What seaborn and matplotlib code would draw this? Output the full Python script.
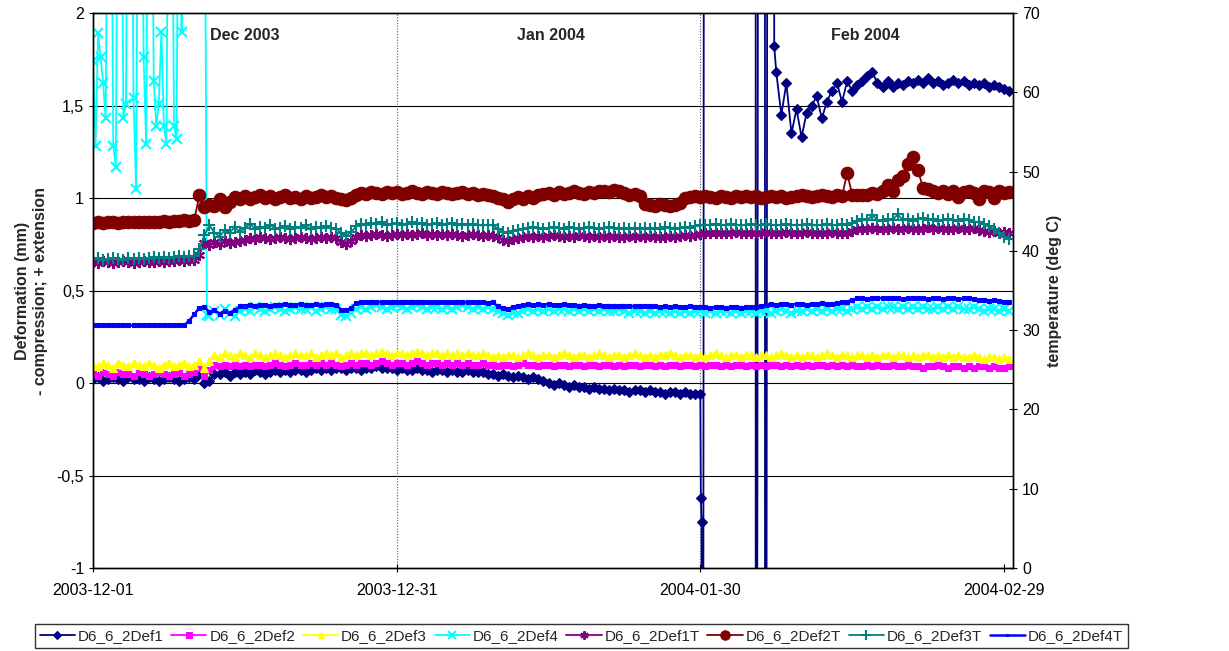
import numpy as np
import pandas as pd
import matplotlib
matplotlib.use("Agg")
import matplotlib.pyplot as plt
from matplotlib.ticker import FuncFormatter, FixedLocator
import seaborn as sns

nan = np.nan

# 12-hourly readings, 2003-12-01 00:00 onwards (182 samples)
times = pd.date_range("2003-12-01", periods=182, freq="12h")

# ---- deformation (mm), left axis ----
def1 = [0.02, 0.03, 0.01, 0.02, 0.03, 0.02, 0.01, 0.03, 0.02, 0.02,
        0.01, 0.03, 0.02, 0.01, 0.02, 0.03, 0.02, 0.01, 0.02, 0.03,
        0.02, 0.05, 0.00, 0.01, 0.05, 0.05, 0.06, 0.04, 0.06, 0.05,
        0.06, 0.05, 0.07, 0.06, 0.05, 0.06, 0.07, 0.06, 0.07, 0.06,
        0.07, 0.07, 0.06, 0.07, 0.08, 0.07, 0.08, 0.07, 0.08, 0.08,
        0.07, 0.08, 0.08, 0.07, 0.08, 0.08, 0.09, 0.08, 0.08, 0.08,
        0.07, 0.08, 0.07, 0.07, 0.08, 0.07, 0.07, 0.06, 0.07, 0.07,
        0.06, 0.07, 0.06, 0.06, 0.07, 0.06, 0.06, 0.06, 0.05, 0.05,
        0.04, 0.05, 0.04, 0.03, 0.04, 0.03, 0.02, 0.03, 0.02, 0.01,
        0.00, -0.01, 0.00, -0.01, -0.02, -0.01, -0.02, -0.02, -0.03, -0.02,
        -0.03, -0.03, -0.04, -0.03, -0.04, -0.04, -0.05, -0.04, -0.04, -0.05,
        -0.04, -0.05, -0.05, -0.06, -0.05, -0.05, -0.06, -0.05, -0.06, -0.06,
        -0.06, nan, nan, nan, nan, nan, nan, nan, nan, nan,
        nan, nan, nan, nan, nan, 1.68, 1.45, 1.62, 1.35, 1.48,
        1.33, 1.46, 1.50, 1.55, 1.43, 1.52, 1.58, 1.62, 1.52, 1.63,
        1.58, 1.61, 1.63, 1.66, 1.68, 1.62, 1.60, 1.63, 1.60, 1.62,
        1.61, 1.63, 1.62, 1.64, 1.62, 1.65, 1.62, 1.63, 1.61, 1.62,
        1.64, 1.62, 1.63, 1.61, 1.62, 1.61, 1.62, 1.60, 1.61, 1.60,
        1.59, 1.58]

# sensor failure around end of January (values far off scale)
def1_glitch_times = ["2004-01-30 01:12", "2004-01-30 02:53", "2004-01-30 05:00",
                     "2004-01-30 10:00", "2004-02-04 11:00", "2004-02-04 11:30",
                     "2004-02-04 19:30", "2004-02-05 09:00", "2004-02-05 09:30",
                     "2004-02-05 17:30", "2004-02-06 04:48", "2004-02-06 07:12"]
def1_glitch = [-0.62, -0.75, -9.0, 9.0, 9.0, -9.0, 9.0, 9.0, -9.0, 9.0, 9.0, 1.82]

def2 = [0.05, 0.04, 0.06, 0.05, 0.04, 0.06, 0.05, 0.05, 0.04, 0.06,
        0.05, 0.04, 0.05, 0.06, 0.05, 0.04, 0.05, 0.06, 0.04, 0.05,
        0.06, 0.08, 0.04, 0.07, 0.10, 0.09, 0.10, 0.09, 0.10, 0.09,
        0.10, 0.09, 0.10, 0.10, 0.09, 0.10, 0.11, 0.10, 0.09, 0.10,
        0.11, 0.10, 0.10, 0.11, 0.10, 0.11, 0.10, 0.11, 0.10, 0.09,
        0.10, 0.11, 0.10, 0.11, 0.11, 0.10, 0.11, 0.12, 0.11, 0.10,
        0.11, 0.11, 0.10, 0.11, 0.12, 0.11, 0.10, 0.11, 0.11, 0.10,
        0.11, 0.10, 0.11, 0.10, 0.11, 0.10, 0.10, 0.11, 0.10, 0.10,
        0.09, 0.10, 0.10, 0.09, 0.10, 0.11, 0.10, 0.10, 0.09, 0.10,
        0.10, 0.09, 0.10, 0.10, 0.09, 0.10, 0.10, 0.09, 0.10, 0.10,
        0.09, 0.10, 0.10, 0.09, 0.10, 0.09, 0.10, 0.10, 0.09, 0.10,
        0.10, 0.09, 0.10, 0.09, 0.10, 0.10, 0.09, 0.10, 0.10, 0.09,
        0.10, 0.09, 0.10, 0.10, 0.09, 0.10, 0.09, 0.10, 0.10, 0.09,
        0.10, 0.09, 0.10, 0.09, 0.10, 0.10, 0.09, 0.10, 0.09, 0.10,
        0.09, 0.10, 0.09, 0.10, 0.10, 0.09, 0.10, 0.09, 0.10, 0.09,
        0.10, 0.09, 0.09, 0.10, 0.09, 0.10, 0.09, 0.09, 0.10, 0.09,
        0.09, 0.10, 0.09, 0.09, 0.08, 0.09, 0.09, 0.10, 0.09, 0.08,
        0.09, 0.09, 0.08, 0.09, 0.08, 0.09, 0.09, 0.08, 0.09, 0.08,
        0.08, 0.09]

def3 = [0.10, 0.09, 0.11, 0.10, 0.08, 0.11, 0.10, 0.09, 0.11, 0.10,
        0.09, 0.11, 0.10, 0.08, 0.10, 0.11, 0.09, 0.10, 0.11, 0.09,
        0.10, 0.12, 0.08, 0.12, 0.15, 0.14, 0.16, 0.15, 0.14, 0.16,
        0.15, 0.14, 0.16, 0.15, 0.14, 0.15, 0.16, 0.15, 0.14, 0.15,
        0.16, 0.15, 0.15, 0.16, 0.14, 0.15, 0.16, 0.15, 0.16, 0.14,
        0.15, 0.16, 0.15, 0.16, 0.16, 0.15, 0.16, 0.17, 0.16, 0.15,
        0.16, 0.16, 0.15, 0.16, 0.17, 0.16, 0.15, 0.16, 0.16, 0.15,
        0.16, 0.15, 0.16, 0.15, 0.16, 0.15, 0.15, 0.16, 0.15, 0.14,
        0.15, 0.14, 0.15, 0.15, 0.14, 0.15, 0.16, 0.15, 0.14, 0.15,
        0.15, 0.14, 0.15, 0.16, 0.15, 0.14, 0.15, 0.15, 0.14, 0.15,
        0.16, 0.15, 0.14, 0.15, 0.15, 0.14, 0.15, 0.16, 0.15, 0.14,
        0.15, 0.14, 0.15, 0.15, 0.16, 0.15, 0.14, 0.15, 0.15, 0.14,
        0.15, 0.14, 0.15, 0.16, 0.15, 0.14, 0.15, 0.15, 0.14, 0.15,
        0.15, 0.14, 0.15, 0.15, 0.14, 0.15, 0.16, 0.15, 0.14, 0.15,
        0.14, 0.15, 0.15, 0.14, 0.15, 0.16, 0.15, 0.14, 0.15, 0.15,
        0.14, 0.15, 0.15, 0.14, 0.15, 0.14, 0.15, 0.15, 0.14, 0.15,
        0.15, 0.14, 0.15, 0.14, 0.15, 0.15, 0.14, 0.15, 0.14, 0.15,
        0.14, 0.15, 0.14, 0.14, 0.15, 0.14, 0.13, 0.14, 0.14, 0.13,
        0.14, 0.13]

# Def4 spiky start logged every 6 h (3.5 = off scale)
def4_early_times = pd.date_range("2003-12-01", periods=46, freq="6h")
def4_early = [1.74, 1.28, 1.89, 1.76, 1.62, 1.43, 3.5, 3.5, 1.28, 1.17,
              3.5, 3.5, 1.43, 1.51, 3.5, 3.5, 1.54, 1.05, 3.5, 3.5,
              1.76, 1.29, 3.5, 3.5, 1.63, 1.39, 1.51, 1.90, 1.39, 1.29,
              3.5, 3.5, 1.39, 1.32, 3.5, 1.90, 3.5, 3.5, 3.5, 3.5,
              3.5, 3.5, 3.5, 3.5, 3.5, 0.37]

def4 = [nan] * 23 + [
        0.36, 0.39, 0.37, 0.40, 0.38, 0.36, 0.39,
        0.40, 0.39, 0.41, 0.40, 0.39, 0.40, 0.41, 0.40, 0.39, 0.40,
        0.41, 0.40, 0.40, 0.41, 0.39, 0.40, 0.41, 0.40, 0.40, 0.37,
        0.36, 0.38, 0.40, 0.41, 0.40, 0.41, 0.42, 0.41, 0.40, 0.41,
        0.42, 0.41, 0.40, 0.41, 0.42, 0.41, 0.40, 0.41, 0.41, 0.40,
        0.41, 0.40, 0.41, 0.42, 0.41, 0.40, 0.41, 0.40, 0.41, 0.40,
        0.39, 0.38, 0.37, 0.38, 0.38, 0.39, 0.40, 0.39, 0.40, 0.39,
        0.40, 0.39, 0.40, 0.40, 0.39, 0.40, 0.39, 0.40, 0.39, 0.40,
        0.39, 0.40, 0.39, 0.39, 0.40, 0.39, 0.38, 0.39, 0.39, 0.38,
        0.39, 0.38, 0.39, 0.39, 0.38, 0.39, 0.38, 0.39, 0.38, 0.39,
        0.39, 0.38, 0.39, 0.38, 0.39, 0.39, 0.38, 0.39, 0.38, 0.39,
        0.39, 0.38, 0.39, 0.39, 0.38, 0.39, 0.40, 0.39, 0.38, 0.39,
        0.39, 0.40, 0.39, 0.40, 0.39, 0.40, 0.39, 0.40, 0.40, 0.39,
        0.40, 0.41, 0.40, 0.41, 0.40, 0.41, 0.40, 0.41, 0.41, 0.40,
        0.41, 0.40, 0.41, 0.40, 0.41, 0.40, 0.40, 0.41, 0.40, 0.41,
        0.40, 0.41, 0.40, 0.40, 0.41, 0.40, 0.39, 0.40, 0.40, 0.39,
        0.40, 0.39]

# ---- temperatures (deg C), right axis ----
def1t = [38.6, 38.5, 38.7, 38.6, 38.5, 38.6, 38.7, 38.6, 38.5, 38.6,
         38.7, 38.6, 38.6, 38.7, 38.6, 38.7, 38.7, 38.8, 38.7, 38.8,
         38.8, 39.5, 41.0, 40.8, 41.1, 40.9, 41.2, 41.0, 41.1, 41.2,
         41.4, 41.6, 41.5, 41.7, 41.6, 41.5, 41.6, 41.7, 41.6, 41.5,
         41.6, 41.7, 41.6, 41.5, 41.6, 41.7, 41.6, 41.7, 41.6, 41.1,
         40.9, 41.3, 41.8, 42.0, 41.9, 42.0, 42.1, 42.0, 41.9, 42.0,
         42.1, 42.0, 42.1, 42.0, 42.1, 42.2, 42.0, 42.1, 42.0, 42.1,
         42.0, 42.1, 42.0, 41.9, 42.0, 42.1, 42.0, 41.9, 42.0, 41.9,
         41.7, 41.4, 41.3, 41.5, 41.6, 41.8, 41.9, 41.8, 41.9, 41.8,
         41.9, 42.0, 41.9, 41.8, 41.9, 41.8, 42.0, 41.9, 41.8, 41.9,
         41.8, 41.9, 41.8, 41.9, 41.7, 41.8, 41.9, 41.8, 41.9, 41.8,
         41.9, 41.8, 41.7, 41.8, 41.9, 41.8, 41.9, 42.0, 41.9, 42.0,
         42.1, 42.2, 42.3, 42.2, 42.3, 42.2, 42.3, 42.4, 42.3, 42.2,
         42.3, 42.2, 42.3, 42.4, 42.3, 42.2, 42.3, 42.4, 42.3, 42.2,
         42.3, 42.4, 42.3, 42.2, 42.3, 42.2, 42.4, 42.3, 42.2, 42.3,
         42.5, 42.7, 42.8, 42.7, 42.9, 42.8, 42.7, 42.8, 42.9, 42.7,
         42.8, 42.9, 42.8, 42.7, 42.8, 43.0, 42.8, 42.9, 42.8, 42.7,
         42.8, 42.9, 42.7, 42.8, 42.9, 42.6, 42.5, 42.4, 42.5, 42.3,
         42.4, 42.3]

def2t = [43.5, 43.6, 43.5, 43.6, 43.6, 43.5, 43.6, 43.7, 43.6, 43.6,
         43.7, 43.6, 43.7, 43.7, 43.8, 43.7, 43.8, 43.8, 43.9, 43.8,
         43.9, 47.0, 45.5, 45.8, 45.6, 46.6, 45.5, 46.2, 46.8, 46.5,
         46.9, 46.6, 46.8, 47.0, 46.7, 46.9, 46.6, 46.8, 47.0, 46.7,
         46.8, 46.5, 46.9, 46.7, 46.8, 47.0, 46.8, 46.9, 46.7, 46.5,
         46.4, 46.7, 47.1, 47.3, 47.2, 47.4, 47.3, 47.2, 47.4, 47.3,
         47.4, 47.2, 47.3, 47.5, 47.3, 47.2, 47.4, 47.3, 47.2, 47.4,
         47.3, 47.2, 47.3, 47.4, 47.2, 47.3, 47.1, 47.2, 47.0, 46.9,
         46.7, 46.5, 46.2, 46.6, 46.8, 46.6, 46.9, 46.7, 47.0, 47.2,
         47.3, 47.1, 47.4, 47.2, 47.3, 47.5, 47.3, 47.2, 47.4, 47.3,
         47.5, 47.6, 47.4, 47.7, 47.5, 47.3, 47.1, 47.2, 46.9, 45.9,
         45.8, 45.7, 45.9, 45.8, 45.7, 45.8, 46.0, 46.7, 46.8, 46.9,
         46.8, 46.9, 46.8, 46.7, 46.9, 46.8, 46.7, 46.9, 46.8, 46.9,
         46.8, 46.9, 46.7, 46.8, 46.9, 46.8, 46.9, 46.7, 46.8, 46.9,
         47.0, 46.9, 46.8, 46.9, 47.0, 46.9, 46.8, 47.0, 46.9, 49.8,
         47.1, 47.0, 47.1, 47.0, 47.3, 47.2, 47.6, 48.3, 47.5, 48.9,
         49.5, 51.0, 51.8, 50.2, 47.9, 47.8, 47.5, 47.3, 47.6, 47.2,
         47.5, 46.8, 47.4, 47.6, 47.3, 46.6, 47.5, 47.4, 46.7, 47.5,
         47.3, 47.4]

def3t = [39.0, 39.1, 38.9, 39.0, 39.1, 39.0, 38.9, 39.1, 39.0, 39.1,
         39.0, 39.1, 39.2, 39.1, 39.2, 39.1, 39.2, 39.3, 39.2, 39.3,
         39.3, 40.2, 42.0, 43.2, 42.3, 41.8, 42.6, 42.3, 43.0, 42.4,
         42.9, 43.4, 42.8, 43.0, 42.9, 43.3, 42.8, 42.9, 43.1, 42.8,
         43.0, 42.9, 43.2, 42.8, 43.0, 42.9, 43.1, 42.9, 42.8, 42.2,
         41.9, 42.4, 43.1, 43.4, 43.3, 43.5, 43.4, 43.6, 43.3, 43.4,
         43.5, 43.3, 43.4, 43.6, 43.4, 43.5, 43.3, 43.4, 43.5, 43.3,
         43.4, 43.5, 43.3, 43.4, 43.2, 43.4, 43.3, 43.2, 43.3, 43.2,
         42.8, 42.4, 42.2, 42.5, 42.6, 42.8, 42.9, 43.0, 42.9, 42.8,
         42.9, 43.0, 42.9, 42.8, 43.0, 42.9, 42.8, 42.9, 43.0, 42.9,
         42.8, 42.9, 43.0, 42.9, 42.8, 42.9, 42.8, 42.9, 42.8, 42.9,
         42.8, 42.9, 42.8, 43.0, 42.9, 42.8, 42.9, 43.0, 42.9, 43.1,
         43.2, 43.3, 43.2, 43.4, 43.3, 43.2, 43.4, 43.3, 43.2, 43.3,
         43.4, 43.3, 43.2, 43.4, 43.3, 43.2, 43.3, 43.4, 43.3, 43.2,
         43.3, 43.4, 43.3, 43.2, 43.3, 43.4, 43.3, 43.2, 43.4, 43.3,
         43.5, 43.8, 44.0, 43.9, 44.5, 43.9, 43.8, 44.0, 43.9, 44.6,
         43.9, 44.0, 43.8, 44.0, 44.1, 43.9, 44.0, 43.8, 43.9, 44.0,
         43.9, 43.8, 44.0, 43.9, 43.7, 43.6, 43.4, 43.1, 42.7, 42.2,
         41.8, 41.5]

def4t = [30.6, 30.6, 30.6, 30.6, 30.6, 30.6, 30.6, 30.6, 30.6, 30.6,
         30.6, 30.6, 30.6, 30.6, 30.6, 30.6, 30.6, 30.6, 30.6, 31.2,
         32.0, 32.8, 32.9, 32.3, 32.5, 32.1, 32.4, 32.2, 32.5, 33.0,
         33.1, 33.2, 33.1, 33.2, 33.2, 33.1, 33.2, 33.2, 33.3, 33.2,
         33.2, 33.3, 33.2, 33.2, 33.3, 33.2, 33.3, 33.3, 33.2, 32.6,
         32.5, 32.8, 33.4, 33.5, 33.5, 33.6, 33.5, 33.6, 33.5, 33.6,
         33.6, 33.5, 33.6, 33.6, 33.5, 33.6, 33.6, 33.5, 33.6, 33.5,
         33.6, 33.5, 33.6, 33.5, 33.5, 33.6, 33.5, 33.5, 33.4, 33.5,
         33.0, 32.8, 32.7, 32.9, 33.1, 33.2, 33.3, 33.2, 33.3, 33.2,
         33.3, 33.2, 33.2, 33.3, 33.2, 33.2, 33.1, 33.2, 33.1, 33.1,
         33.2, 33.1, 33.1, 33.0, 33.1, 33.0, 33.1, 33.0, 33.0, 33.1,
         33.0, 33.0, 32.9, 33.0, 32.9, 33.0, 32.9, 32.9, 33.0, 32.9,
         32.9, 32.9, 32.8, 32.9, 32.9, 32.8, 32.9, 32.9, 32.8, 32.9,
         32.9, 32.9, 33.0, 33.2, 33.3, 33.2, 33.3, 33.3, 33.2, 33.3,
         33.3, 33.2, 33.3, 33.3, 33.4, 33.3, 33.3, 33.4, 33.5, 33.6,
         33.8, 34.0, 34.0, 33.9, 34.0, 34.1, 34.0, 34.0, 34.1, 34.0,
         33.9, 34.0, 34.0, 34.1, 34.0, 33.9, 34.0, 34.0, 33.9, 34.0,
         34.0, 33.9, 34.0, 34.0, 33.9, 33.8, 33.8, 33.7, 33.8, 33.7,
         33.6, 33.6]

month_labels = ["Dec 2003", "Jan 2004", "Feb 2004"]
month_label_pos = ["2003-12-16", "2004-01-15 06:00", "2004-02-15 06:00"]
date_ticks = ["2003-12-01", "2003-12-31", "2004-01-30", "2004-02-29"]


def series(t, v):
    s = pd.Series(v, index=pd.DatetimeIndex(t), dtype=float).dropna()
    return s.sort_index()


def draw(ax, s, label, color, marker, ms, mew=0.8, lw=1.3):
    sns.lineplot(x=s.index, y=s.values, ax=ax, color=color, marker=marker,
                 markersize=ms, markeredgecolor=color, markerfacecolor=color,
                 markeredgewidth=mew, linewidth=lw, label=label,
                 estimator=None, sort=True)


sns.set_style("white")
plt.rcParams["font.family"] = ["Liberation Sans", "DejaVu Sans"]

fig, ax = plt.subplots(figsize=(12.29, 6.51), dpi=100)
fig.subplots_adjust(left=0.0757, right=0.8243, top=0.980, bottom=0.1275)
ax2 = ax.twinx()

s1 = pd.concat([series(times, def1), series(def1_glitch_times, def1_glitch)]).sort_index()
s4 = pd.concat([series(def4_early_times, def4_early), series(times, def4)]).sort_index()

draw(ax, s1, "D6_6_2Def1", "#000080", "D", 5.5)
draw(ax, series(times, def2), "D6_6_2Def2", "#FF00FF", "s", 5)
draw(ax, series(times, def3), "D6_6_2Def3", "#FFFF00", "^", 6)
draw(ax, s4, "D6_6_2Def4", "#00FFFF", "x", 7, mew=1.5)

draw(ax2, series(times, def1t), "D6_6_2Def1T", "#800080", (6, 2, 0), 8, mew=1.5)
draw(ax2, series(times, def2t), "D6_6_2Def2T", "#800000", "o", 9)
draw(ax2, series(times, def3t), "D6_6_2Def3T", "#008080", "+", 9, mew=1.5)
draw(ax2, series(times, def4t), "D6_6_2Def4T", "#0000FF", "s", 2.5, lw=1.8)

for a in (ax, ax2):
    if a.get_legend() is not None:
        a.get_legend().remove()

xmin = pd.Timestamp("2003-12-01")
xmax = pd.Timestamp("2004-02-29 21:30")
ax.set_xlim(xmin, xmax)
ax.set_ylim(-1, 2)
ax2.set_ylim(0, 70)

tick_dates = pd.to_datetime(date_ticks)
ax.xaxis.set_major_locator(FixedLocator(matplotlib.dates.date2num(tick_dates)))
ax.set_xticklabels(date_ticks)
ax.set_yticks([-1, -0.5, 0, 0.5, 1, 1.5, 2])
ax.yaxis.set_major_formatter(FuncFormatter(lambda v, p: f"{v:g}".replace(".", ",")))
ax2.set_yticks(range(0, 71, 10))

# horizontal gridlines solid, vertical month separators dotted
ax.grid(False)
for yv in [-0.5, 0, 0.5, 1, 1.5]:
    ax.axhline(yv, color="black", lw=0.8, zorder=0)
for d in tick_dates[1:3]:
    ax.axvline(d, color="#555555", lw=0.8, ls=(0, (1, 1.5)), zorder=0)

for a in (ax, ax2):
    for sp in a.spines.values():
        sp.set_color("black")
        sp.set_linewidth(1.0)

ax.tick_params(axis="both", labelsize=11.5, colors="black", direction="inout",
               length=6, width=0.8, left=True, bottom=True)
ax.tick_params(axis="x", pad=8)
ax2.tick_params(axis="y", labelsize=11.5, colors="black", direction="inout",
                length=6, width=0.8, right=True)

ax.set_xlabel("")
ax.set_ylabel("Deformation (mm)\n- compression; + extension", fontsize=11.5,
              fontweight="bold", labelpad=6, linespacing=1.3)
ax2.set_ylabel("temperature (deg C)", fontsize=11.5, fontweight="bold", labelpad=5)

for lab, pos in zip(month_labels, month_label_pos):
    ax.text(pd.Timestamp(pos), 1.88, lab, ha="center", va="center",
            fontsize=11.5, fontweight="bold")

h1, l1 = ax.get_legend_handles_labels()
h2, l2 = ax2.get_legend_handles_labels()
leg = fig.legend(h1 + h2, l1 + l2, loc="center", bbox_to_anchor=(0.473, 0.023),
                 ncol=8, fontsize=11, frameon=True, fancybox=False,
                 edgecolor="black", handlelength=2.3, handletextpad=0.2,
                 columnspacing=0.5, borderpad=0.3, borderaxespad=0,
                 markerscale=0.75)
leg.get_frame().set_linewidth(1.0)

fig.savefig("out.png", dpi=100, facecolor="white")
